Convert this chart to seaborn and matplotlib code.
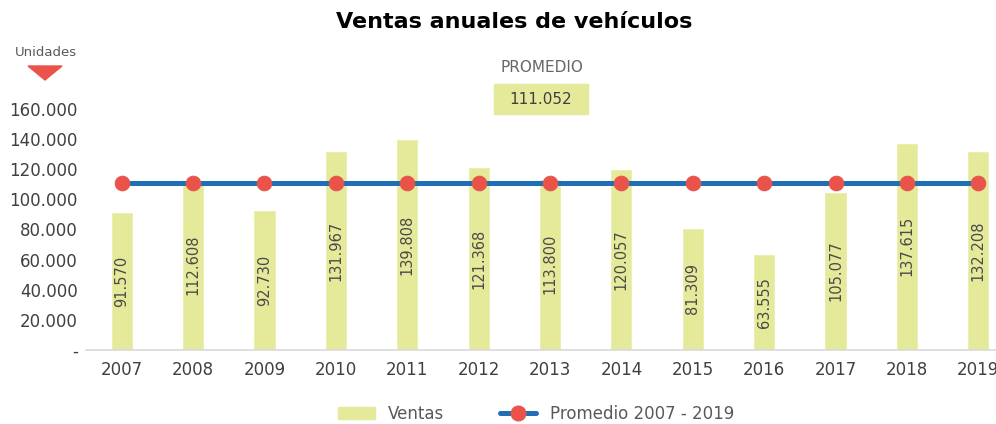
import matplotlib
matplotlib.use("Agg")
import matplotlib.pyplot as plt
import seaborn as sns
import numpy as np
from matplotlib.patches import Polygon, Rectangle, Patch
from matplotlib.lines import Line2D

# datos
anios = ["2007", "2008", "2009", "2010", "2011", "2012", "2013",
         "2014", "2015", "2016", "2017", "2018", "2019"]
ventas = [91570, 112608, 92730, 131967, 139808, 121368, 113800,
          120057, 81309, 63555, 105077, 137615, 132208]
y_ticks = [0, 20000, 40000, 60000, 80000, 100000, 120000, 140000, 160000]

promedio = float(np.mean(ventas))
linea_prom = [promedio] * len(anios)

AMARILLO = "#e5ea9b"
AZUL = "#1f6fb6"
ROJO = "#e9534a"
GRIS = "#404040"


def fmt(v):
    return f"{int(round(v)):,}".replace(",", ".")


sns.set_style("white")
plt.rcParams['font.family'] = ['DejaVu Sans']
plt.rcParams['text.color'] = GRIS

fig = plt.figure(figsize=(9.96, 4.24), dpi=100)
W, H = 996, 424
ax = fig.add_axes([86 / W, (H - 350) / H, (1014 - 86) / W, (350 - 109) / H])

sns.barplot(x=anios, y=ventas, color=AMARILLO, width=0.31, saturation=1,
            ax=ax, zorder=1)
sns.lineplot(x=anios, y=linea_prom, color=AZUL, linewidth=3.6, marker="o",
             markersize=10.5, markerfacecolor=ROJO, markeredgecolor=ROJO,
             ax=ax, zorder=3)

# etiquetas dentro de las barras
for i, v in enumerate(ventas):
    ax.text(i, v / 2, fmt(v), rotation=90, ha="center", va="center",
            fontsize=10.5, color="#4a4a4a", zorder=4)

ax.set_ylim(0, 160000)
ax.set_xlim(-0.5, 12.5)
ax.set_yticks(y_ticks)
ax.set_yticklabels(["-"] + [fmt(t) for t in y_ticks[1:]])
ax.tick_params(axis="both", length=0, labelsize=12, colors=GRIS)
ax.tick_params(axis="x", pad=8)
ax.tick_params(axis="y", pad=6)
for s in ["top", "right", "left"]:
    ax.spines[s].set_visible(False)
ax.spines["bottom"].set_color("#d9d9d9")
ax.spines["bottom"].set_linewidth(1.2)
ax.set_xlabel("")
ax.set_ylabel("")
if ax.get_legend():
    ax.get_legend().remove()

# titulo
fig.text(514 / W, 1 - 22 / H, "Ventas anuales de vehículos", ha="center",
         va="center", fontsize=16, fontweight="bold", color="black")

# unidades + triangulo
fig.text(46 / W, 1 - 53 / H, "Unidades", ha="center", va="center",
         fontsize=9.5, color="#595959")
tri = Polygon([[28 / W, 1 - 66 / H], [62 / W, 1 - 66 / H], [45 / W, 1 - 80 / H]],
              closed=True, transform=fig.transFigure, color=ROJO)
fig.patches.append(tri)

# caja promedio
fig.text(542 / W, 1 - 68 / H, "PROMEDIO", ha="center", va="center",
         fontsize=11, color="#666666")
caja = Rectangle((494 / W, 1 - 114 / H), 94 / W, 30 / H,
                 transform=fig.transFigure, color=AMARILLO)
fig.patches.append(caja)
fig.text(541 / W, 1 - 100 / H, fmt(promedio), ha="center", va="center",
         fontsize=11, color=GRIS)

# leyenda
handles = [Patch(color=AMARILLO, label="Ventas"),
           Line2D([], [], color=AZUL, linewidth=3.6, marker="o", markersize=10.5,
                  markerfacecolor=ROJO, markeredgecolor=ROJO,
                  label="Promedio 2007 - 2019")]
fig.legend(handles=handles, loc="center", bbox_to_anchor=(536 / W, 1 - 414 / H),
           ncol=2, frameon=False, fontsize=12, handlelength=2.2,
           columnspacing=3.3, labelcolor="#595959")

fig.savefig("out.png", dpi=100)
